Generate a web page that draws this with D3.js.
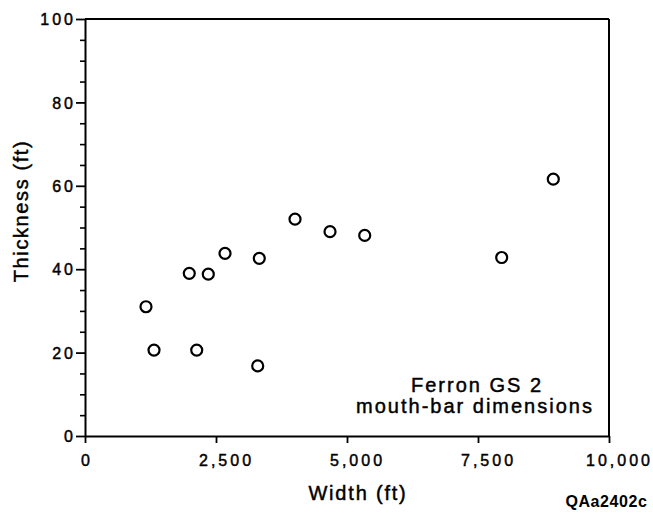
<!DOCTYPE html>
<html>
<head>
<meta charset="utf-8">
<script src="https://cdn.jsdelivr.net/npm/d3@7"></script>
<style>
  html, body { margin: 0; padding: 0; background: #fff; }
  svg { display: block; }
  text { font-family: "Liberation Sans", Arial, Helvetica, sans-serif; fill: #000; }
  .thick { stroke: #000; stroke-width: 0.45px; }
</style>
</head>
<body>
<svg id="chart" width="653" height="517"></svg>
<script>
// ---- data ----
const widths      = [1164, 1317, 2132, 3296, 1990, 2353, 2672, 3326, 4008, 4676, 5338, 7952, 8937];
const thicknesses = [31.0, 20.6, 20.6, 16.8, 39.0, 38.8, 43.8, 42.6, 52.0, 49.0, 48.1, 42.8, 61.6];
const xTicks      = [0, 2500, 5000, 7500, 10000];
const yTicks      = [0, 20, 40, 60, 80, 100];
const yMinorTicks = [5, 10, 15, 25, 30, 35, 45, 50, 55, 65, 70, 75, 85, 90, 95];
const xLabel      = "Width (ft)";
const yLabel      = "Thickness (ft)";
const noteLines   = ["Ferron GS 2", "mouth-bar dimensions"];
const figId       = "QAa2402c";

(function () {
const svg = d3.select("#chart");
const mLeft = 85, mRight = 609, mTop = 19, mBottom = 436;

const x = d3.scaleLinear().domain([0, 10000]).range([mLeft, mRight]);
const y = d3.scaleLinear().domain([0, 100]).range([mBottom, mTop]);

const ink = "#000";
const tickLs = 3;

// frame: top and right borders
svg.append("line").attr("x1", x(0)).attr("x2", x(10000)).attr("y1", y(100)).attr("y2", y(100))
  .attr("stroke", ink).attr("stroke-width", 2);
svg.append("line").attr("x1", x(10000)).attr("x2", x(10000)).attr("y1", y(100)).attr("y2", y(0))
  .attr("stroke", ink).attr("stroke-width", 2);

// y minor ticks
const yMinor = svg.append("g").attr("transform", `translate(${mLeft},0)`)
  .call(d3.axisLeft(y).tickValues(yMinorTicks).tickSize(5).tickSizeOuter(0).tickFormat(""));
yMinor.select(".domain").remove();
yMinor.selectAll(".tick line").attr("stroke", ink).attr("stroke-width", 1.6);

// y major axis
const yAx = svg.append("g").attr("transform", `translate(${mLeft},0)`)
  .call(d3.axisLeft(y).tickValues(yTicks).tickSize(9).tickSizeOuter(0).tickFormat(d3.format("d")));
yAx.select(".domain").attr("stroke", ink).attr("stroke-width", 2);
yAx.selectAll(".tick line").attr("stroke", ink).attr("stroke-width", 1.8);
yAx.selectAll(".tick text")
  .attr("class", "thick")
  .attr("x", -12 + tickLs).attr("dy", "0.36em")
  .style("font-size", "16px").style("letter-spacing", tickLs + "px")
  .style("font-family", "'Liberation Sans', Arial, sans-serif").attr("fill", ink);

// x axis
const xAx = svg.append("g").attr("transform", `translate(0,${mBottom})`)
  .call(d3.axisBottom(x).tickValues(xTicks).tickSize(7).tickSizeOuter(0).tickFormat(d3.format(",")));
xAx.select(".domain").attr("stroke", ink).attr("stroke-width", 2);
xAx.selectAll(".tick line").attr("stroke", ink).attr("stroke-width", 1.8);
xAx.selectAll(".tick text")
  .attr("class", "thick")
  .attr("y", 30).attr("dy", 0)
  .attr("x", d => (d === 0 ? 0 : 8.5) + tickLs / 2)
  .style("font-size", "16px").style("letter-spacing", tickLs + "px")
  .style("font-family", "'Liberation Sans', Arial, sans-serif").attr("fill", ink);

// axis titles
svg.append("text").attr("class", "thick")
  .attr("x", 358).attr("y", 500)
  .attr("text-anchor", "middle")
  .style("font-size", "20px").style("letter-spacing", "1.8px")
  .text(xLabel);

svg.append("text").attr("class", "thick")
  .attr("transform", `translate(28,211) rotate(-90)`)
  .attr("text-anchor", "middle")
  .style("font-size", "20px").style("letter-spacing", "1.6px")
  .text(yLabel);

// annotation
svg.append("text").attr("class", "thick")
  .attr("x", 477).attr("y", 392)
  .attr("text-anchor", "middle")
  .style("font-size", "20px").style("letter-spacing", "2px")
  .text(noteLines[0]);
svg.append("text").attr("class", "thick")
  .attr("x", 475).attr("y", 413)
  .attr("text-anchor", "middle")
  .style("font-size", "20px").style("letter-spacing", "2px")
  .text(noteLines[1]);

// figure id
svg.append("text")
  .attr("x", 647.6).attr("y", 506.5)
  .attr("text-anchor", "end")
  .style("font-size", "16px").style("font-weight", "bold").style("letter-spacing", "0.6px")
  .text(figId);

// points
const pts = widths.map((w, i) => ({ w, t: thicknesses[i] }));
svg.append("g").selectAll("circle").data(pts).join("circle")
  .attr("cx", d => x(d.w)).attr("cy", d => y(d.t))
  .attr("r", 5.5)
  .attr("fill", "none").attr("stroke", ink).attr("stroke-width", 2.2);
})();
</script>
</body>
</html>
